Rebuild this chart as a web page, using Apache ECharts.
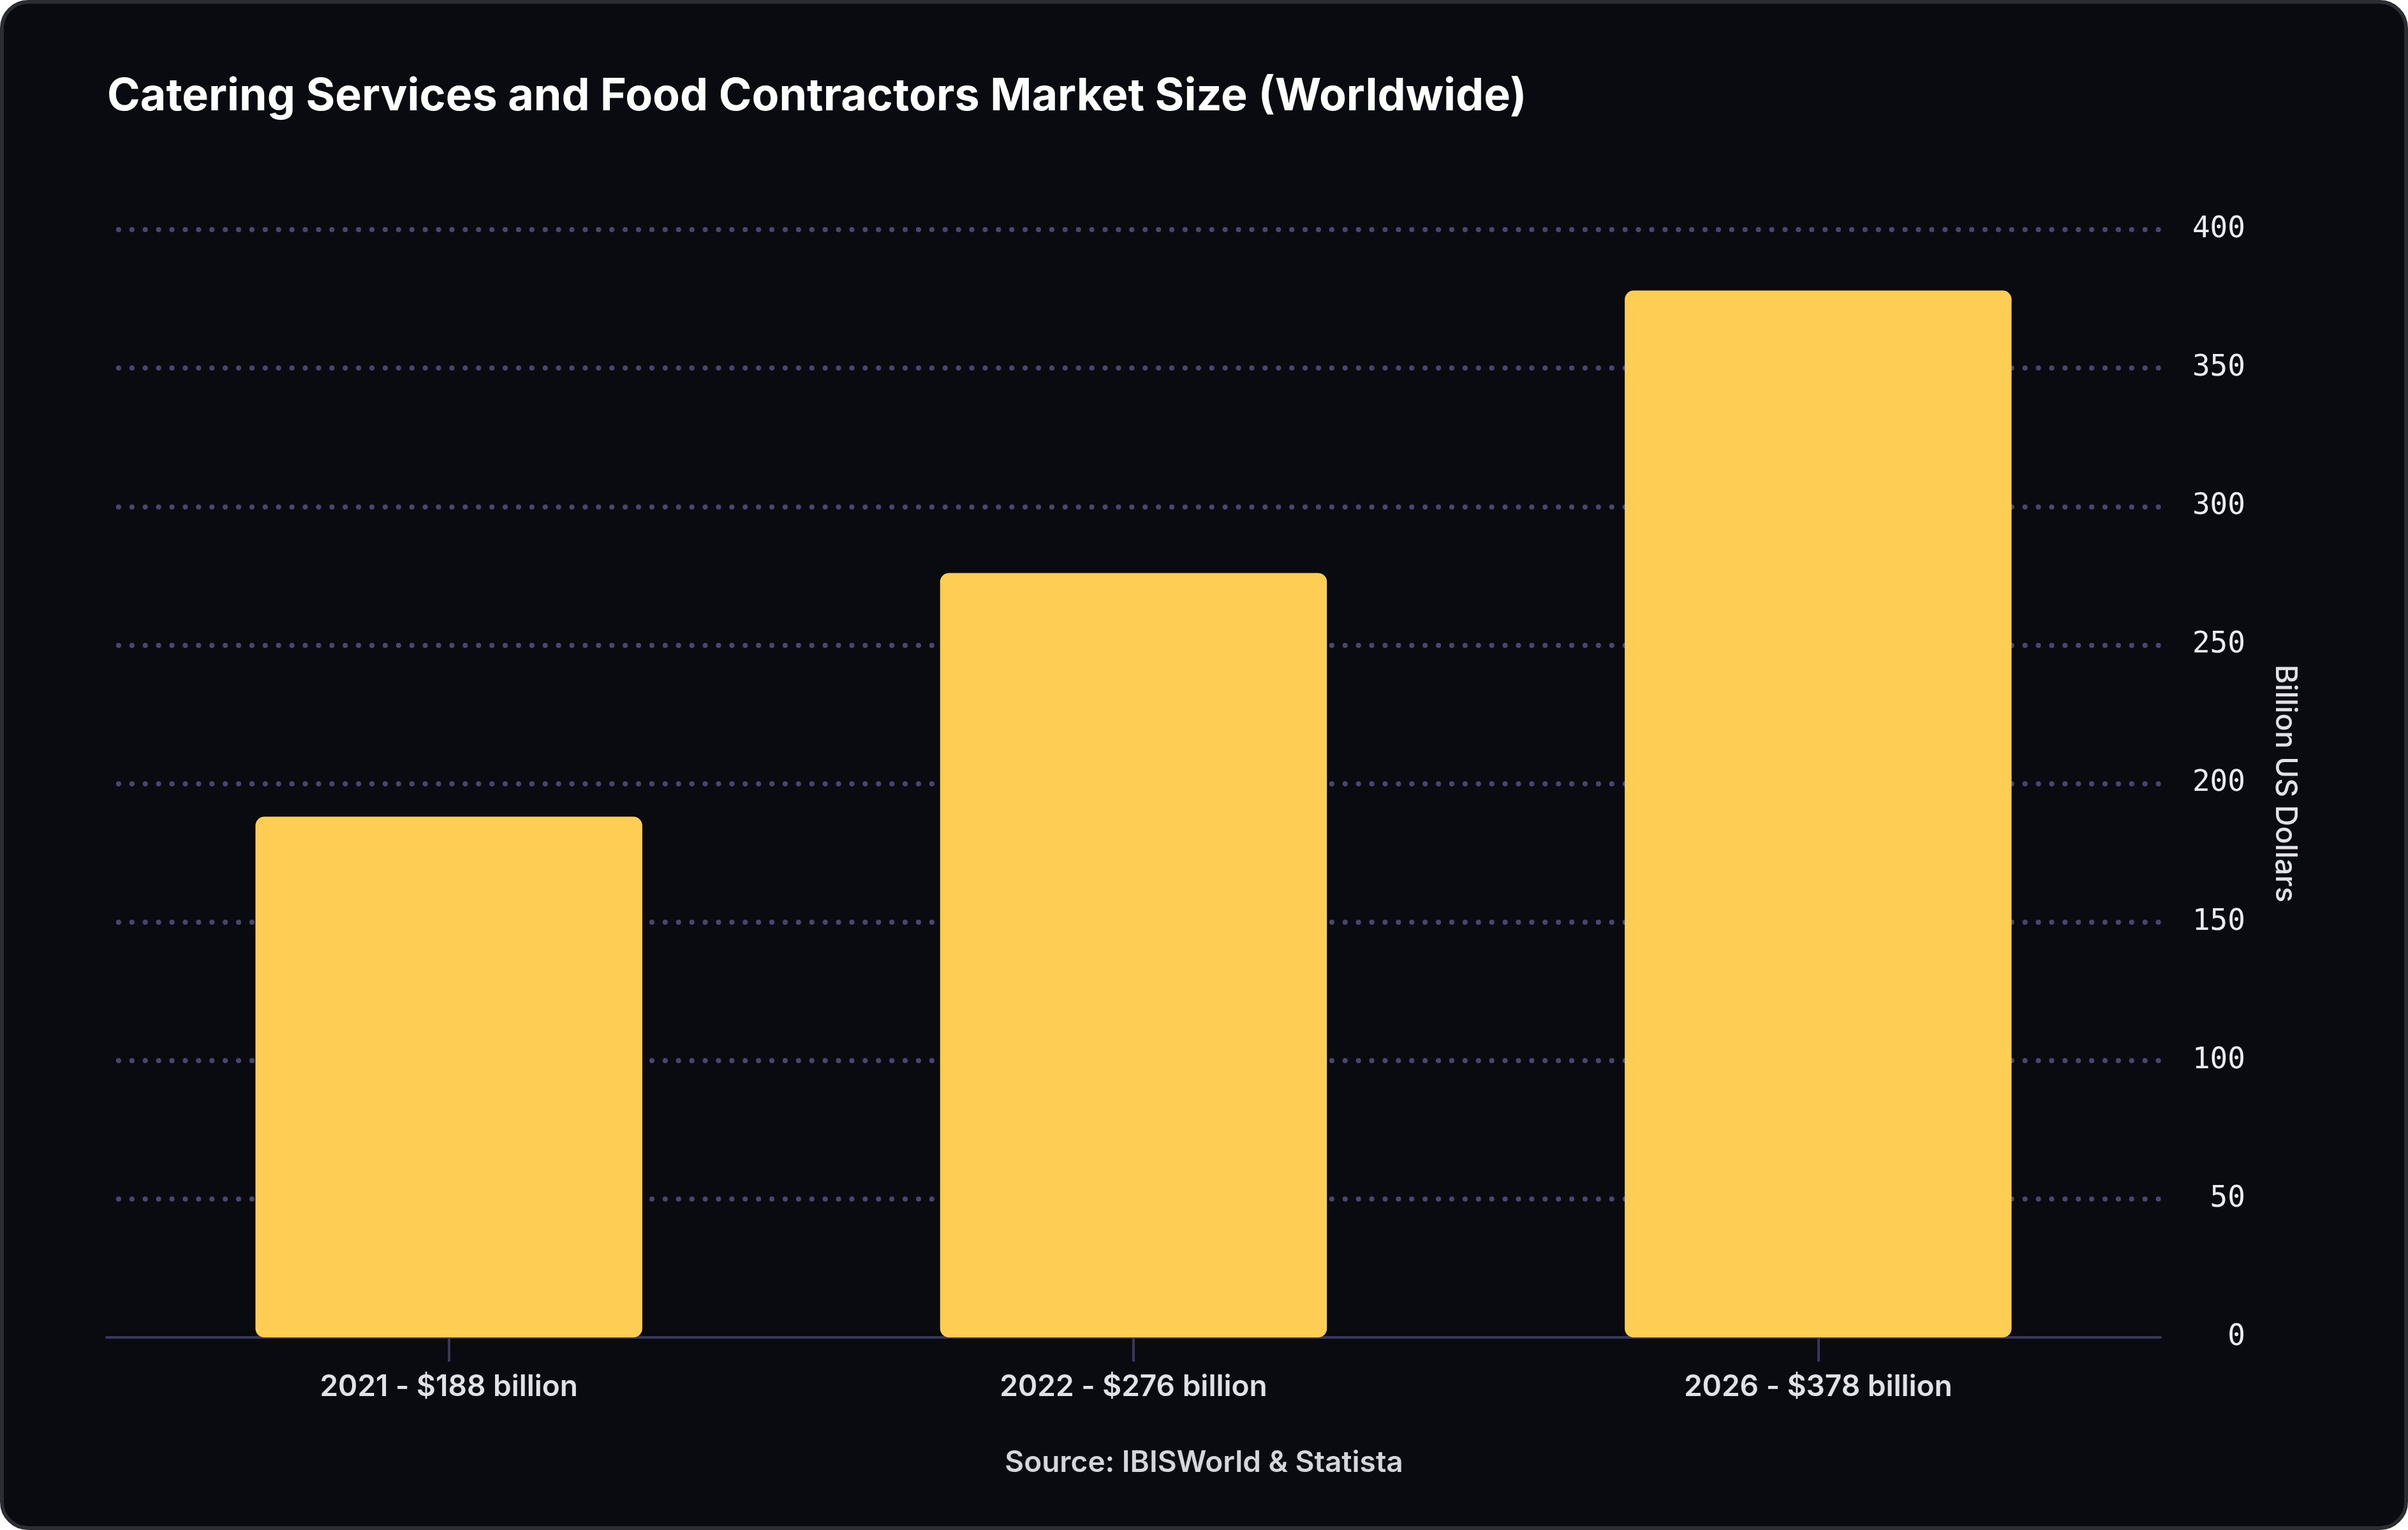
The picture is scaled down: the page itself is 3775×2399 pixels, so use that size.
<!DOCTYPE html>
<html>
<head>
<meta charset="utf-8">
<script src="https://cdn.jsdelivr.net/npm/echarts@6/dist/echarts.min.js"></script>
<style>
  html, body { margin: 0; padding: 0; background: #ffffff; }
  #card {
    position: absolute; left: 0; top: 0; width: 3775px; height: 2399px;
    box-sizing: border-box; border: 6px solid #2b2d33; border-radius: 44px;
    background: #0a0b10;
  }
  #chart { position: absolute; left: 0; top: 0; width: 3775px; height: 2399px; }
</style>
</head>
<body>
<div id="card"></div>
<div id="chart"></div>
<script>
const categories = ['2021 - $188 billion', '2022 - $276 billion', '2026 - $378 billion'];
const marketSize = [188, 276, 378];
const yTicks = [0, 50, 100, 150, 200, 250, 300, 350, 400];
const titleText = 'Catering Services and Food Contractors Market Size (Worldwide)';
const sourceText = 'Source: IBISWorld & Statista';
const yAxisName = 'Billion US Dollars';

const chart = echarts.init(document.getElementById('chart'), null, { renderer: 'canvas' });
chart.setOption({
  backgroundColor: 'transparent',
  animation: false,
  title: [
    {
      text: titleText, left: 163, top: 112,
      textStyle: { color: '#ffffff', fontFamily: 'Inter', fontWeight: 'bold', fontSize: 70 }
    },
    {
      text: sourceText, left: 'center', top: 2266,
      textStyle: { color: '#d6d5dc', fontFamily: 'Inter', fontWeight: 600, fontSize: 46 }
    }
  ],
  grid: { left: 167, right: 388, top: 360, bottom: 302, containLabel: false },
  xAxis: {
    type: 'category',
    data: categories,
    axisLine: { show: true, lineStyle: { color: '#38375f', width: 4 } },
    axisTick: { show: true, alignWithLabel: true, length: 38, lineStyle: { color: '#38375f', width: 4 } },
    axisLabel: { color: '#e2e1e8', fontFamily: 'Inter', fontWeight: 600, fontSize: 46, margin: 55 },
    splitLine: { show: false }
  },
  yAxis: {
    type: 'value',
    position: 'right',
    min: yTicks[0], max: yTicks[yTicks.length - 1], interval: yTicks[1] - yTicks[0],
    name: yAxisName,
    nameLocation: 'middle',
    nameRotate: -90,
    nameGap: 172,
    nameTextStyle: { color: '#e2e1e8', fontFamily: 'Inter', fontWeight: 500, fontSize: 46 },
    axisLine: { show: false },
    axisTick: { show: false },
    axisLabel: { color: '#ecebf0', fontFamily: 'DejaVu Sans Mono', fontSize: 46, align: 'right', margin: 133 },
    splitLine: {
      show: true, showMinLine: false,
      lineStyle: { color: '#48466f', width: 8, type: [0.1, 20.8], cap: 'round', dashOffset: 2 }
    }
  },
  series: [{
    type: 'bar',
    data: marketSize,
    barWidth: '56.5%',
    itemStyle: { color: '#fecd54', borderRadius: 14 }
  }]
});
</script>
</body>
</html>
